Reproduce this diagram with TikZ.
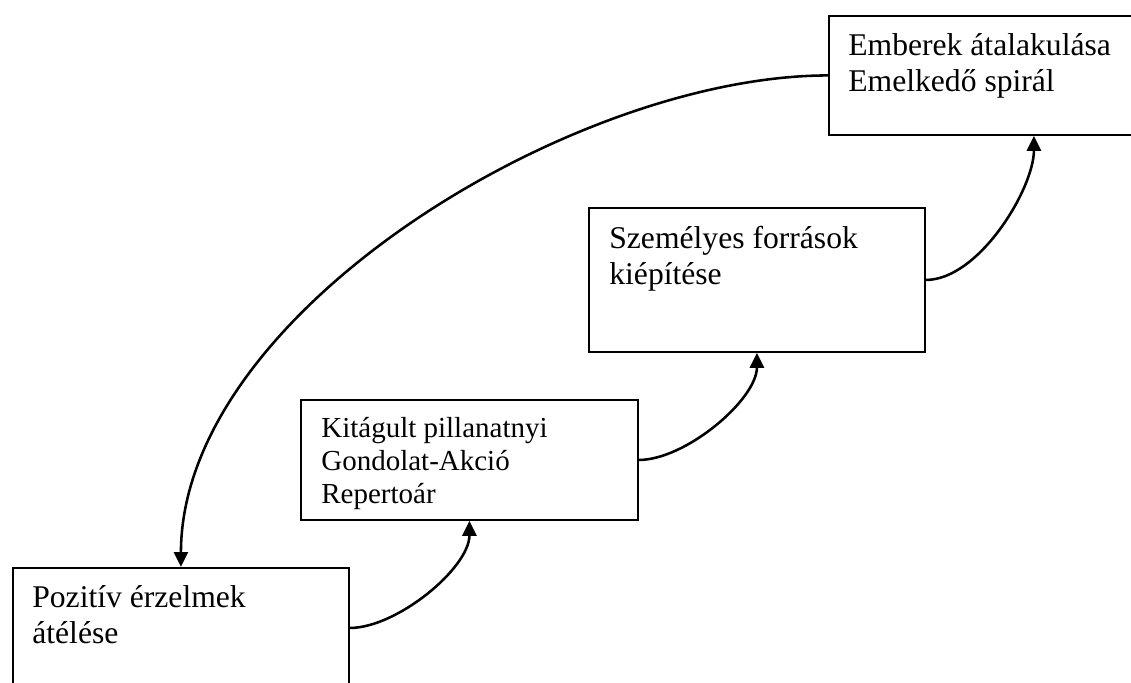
\documentclass[tikz,border=0pt]{standalone}
\usepackage{fontspec}
\setmainfont{Liberation Serif}
\usetikzlibrary{arrows.meta,positioning}

\tikzset{
  box/.style={rectangle, draw, line width=1.1pt, minimum width=6.72cm, inner sep=0pt, anchor=north west},
  txt/.style={align=left, inner sep=0pt, anchor=base west, font=\fontsize{18}{20.8}\selectfont},
  smalltxt/.style={txt, font=\fontsize{16.5}{18.8}\selectfont},
  link/.style={-{Triangle[length=8.5pt,width=8pt]}, line width=1.45pt}
}

\begin{document}
\begin{tikzpicture}[x=0.02cm, y=0.02cm]
  \clip (0,0) rectangle (1131,682);

  % boxes
  \node[box, minimum height=2.4cm] (pozitiv) at (12,115) {};
  \node[box, minimum width=6.74cm, minimum height=2.4cm] (kitagult) at (300,283) {};
  \node[box, minimum height=2.88cm] (szemelyes) at (588,475) {};
  \node[box, minimum width=8.2cm, minimum height=2.38cm] (emberek) at (828,667) {};

  % texts (anchored at the baseline of the last line)
  \node[txt] (pozitivtxt) at ([shift={(20,-77)}]pozitiv.north west) {Pozitív érzelmek\\átélése};
  \node[smalltxt] (kitagulttxt) at ([shift={(21,-105)}]kitagult.north west) {Kitágult pillanatnyi\\Gondolat-Akció\\Repertoár};
  \node[txt] (szemelyestxt) at ([shift={(21,-78)}]szemelyes.north west) {Személyes források\\kiépítése};
  \node[txt] (emberektxt) at ([shift={(20,-77)}]emberek.north west) {Emberek átalakulása\\Emelkedő spirál};

  % connectors
  \draw[link] (pozitiv.east) to[out=0, in=-90, looseness=0.75] (kitagult.south);
  \draw[link] (kitagult.east) to[out=0, in=-90, looseness=0.75] (szemelyes.south);
  \draw[link] (szemelyes.east) to[out=0, in=-90, looseness=0.75] (emberek.south);
  \draw[link] (emberek.west) to[out=180, in=90, looseness=0.8] (pozitiv.north);
\end{tikzpicture}
\end{document}
